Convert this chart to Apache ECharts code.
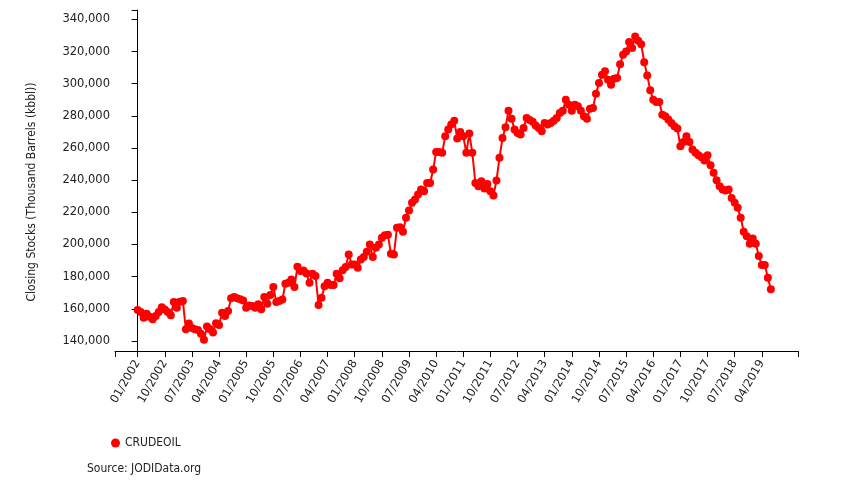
<!DOCTYPE html>
<html>
<head>
<meta charset="utf-8">
<script src="https://cdn.jsdelivr.net/npm/echarts@6/dist/echarts.min.js"></script>
<style>html,body{margin:0;padding:0;background:#fff}#c{width:850px;height:500px}</style>
</head>
<body>
<div id="c"></div>
<script>
// Month index 0 = 01/2002
const seriesName = 'CRUDEOIL';
const crudeStocks = [
159300,158000,154500,157000,155000,153500,155500,158000,161000,159500,158000,156000,
164200,160700,164400,164800,147300,150800,148000,147300,146800,144500,140800,149000,
147300,145200,151000,150000,157600,155500,158600,166500,167300,166500,166000,165200,
160700,162000,161700,160700,162800,159700,167300,163200,168600,173500,164200,164800,
165800,175600,176200,178200,173500,186100,183500,183800,182000,176200,181800,180400,
162400,166900,174000,176200,174800,174800,181800,179000,184000,186000,193800,187600,
187600,185500,190700,192200,195500,200000,192200,198000,200000,204200,205800,206000,
194200,193800,210400,210800,207900,216600,221100,225900,228000,231100,234200,233200,
238300,238300,246600,257600,257600,257000,267300,271500,274600,277000,265900,270000,
267300,257000,269000,257000,238300,236300,239400,234800,237600,233200,230500,239800,
253900,266300,272900,283200,278300,271500,269400,268400,272500,278700,277500,276300,
274000,272500,270400,275600,274600,275600,277000,278700,281800,283200,290000,287000,
283200,287000,286000,283200,279800,278300,284500,284900,293800,300400,305600,307700,
302500,299400,303100,303500,312200,318000,320100,325900,322200,329400,326700,324600,
313400,305200,295900,290000,288600,288600,280700,279800,277700,275600,273500,272100,
261100,263800,267300,263800,259100,257000,255500,254300,252200,255500,249300,244600,
240000,236300,234200,233600,234200,229000,225900,222800,216600,207900,205200,200400,
203700,200400,192800,187200,187200,179300,172100
];
const xTickMonths = [0,9,18,27,36,45,54,63,72,81,90,99,108,117,126,135,144,153,162,171,180,189,198,207];
const xTickLabels = ['01/2002','10/2002','07/2003','04/2004','01/2005','10/2005','07/2006','04/2007','01/2008','10/2008','07/2009','04/2010','01/2011','10/2011','07/2012','04/2013','01/2014','10/2014','07/2015','04/2016','01/2017','10/2017','07/2018','04/2019'];
const yTicks = [140000,160000,180000,200000,220000,240000,260000,280000,300000,320000,340000];

const FONT_C = "'DejaVu Sans Condensed', 'DejaVu Sans', sans-serif";
const FONT_T = "'DejaVu Sans', sans-serif";
const xMin = -7.5, xMax = 219;
const yMin = Math.min(...crudeStocks) * 0.95;
const yMax = Math.max(...crudeStocks) * 1.05;
const labelMap = {};
xTickMonths.forEach((m, i) => labelMap[m] = xTickLabels[i]);

const chart = echarts.init(document.getElementById('c'), null, {renderer: 'canvas'});
chart.setOption({
  animation: false,
  backgroundColor: '#fff',
  textStyle: {fontFamily: FONT_C},
  grid: {left: 115, right: 52, top: 10, bottom: 149, containLabel: false},
  legend: {
    data: [seriesName], left: 106, top: 432, icon: 'circle', itemWidth: 9, itemHeight: 9, itemGap: 5,
    textStyle: {fontFamily: FONT_C, fontSize: 12, color: '#222'}
  },
  graphic: [
    {type: 'text', x: 32, y: 192, rotation: Math.PI / 2,
     style: {text: 'Closing Stocks (Thousand Barrels (kbbl))', font: '12px ' + FONT_C, fill: '#222', align: 'center', verticalAlign: 'middle'}},
    {type: 'text', x: 87, y: 469,
     style: {text: 'Source: JODIData.org', font: '12px ' + FONT_C, fill: '#222', align: 'left', verticalAlign: 'middle'}}
  ],
  xAxis: {
    type: 'value', min: xMin, max: xMax,
    axisLine: {show: true, lineStyle: {color: '#000', width: 1}},
    axisTick: {show: true, length: 6, lineStyle: {color: '#000'}, customValues: [xMin].concat(xTickMonths, [xMax])},
    axisLabel: {
      show: true, rotate: 60, margin: 10, fontSize: 11.5, color: '#222', fontFamily: FONT_T,
      customValues: xTickMonths,
      formatter: v => labelMap[Math.round(v)] || ''
    },
    splitLine: {show: false}
  },
  yAxis: {
    type: 'value', min: yMin, max: yMax,
    axisLine: {show: true, lineStyle: {color: '#000', width: 1}},
    axisTick: {show: true, length: 6, lineStyle: {color: '#000'}, customValues: [yMin].concat(yTicks, [yMax])},
    axisLabel: {
      show: true, margin: 5, fontSize: 11.5, color: '#222', fontFamily: FONT_T,
      customValues: yTicks,
      formatter: v => Math.round(v).toLocaleString('en-US')
    },
    splitLine: {show: false}
  },
  series: [{
    name: seriesName, type: 'line',
    data: crudeStocks.map((v, i) => [i, v]),
    symbol: 'circle', symbolSize: 8, showSymbol: true,
    itemStyle: {color: '#ff0000'},
    lineStyle: {color: '#ff0000', width: 2}
  }]
});
</script>
</body>
</html>
